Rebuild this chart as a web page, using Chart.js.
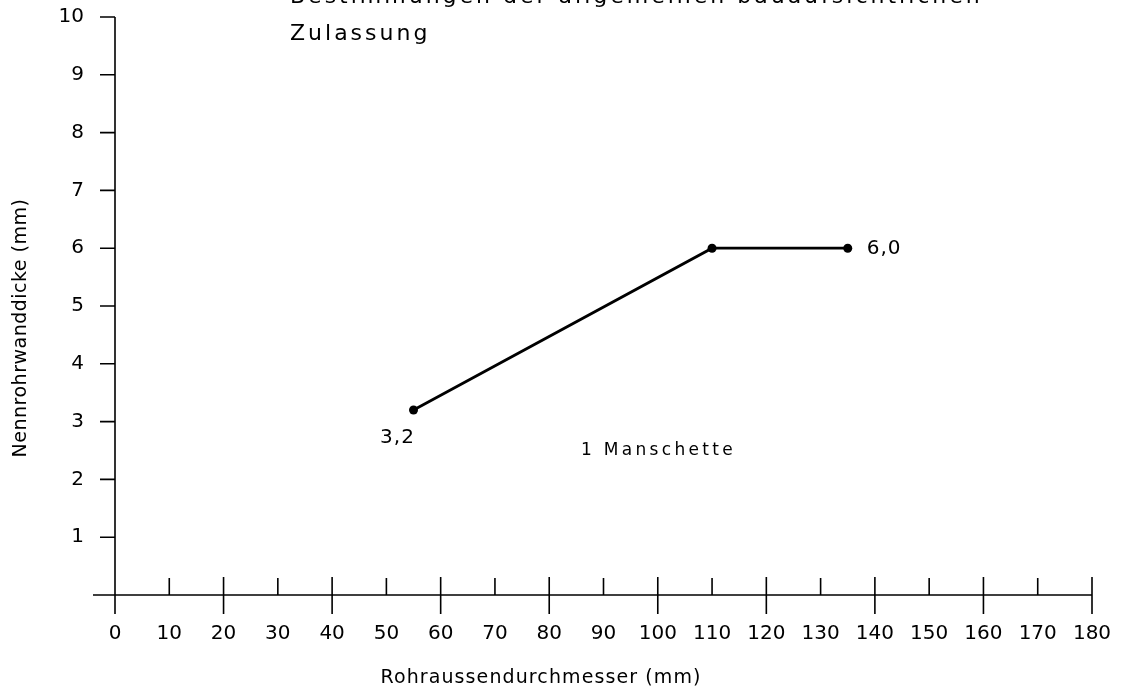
<!DOCTYPE html>
<html>
<head>
<meta charset="utf-8">
<title>Nennrohrwanddicke</title>
<script src="https://cdn.jsdelivr.net/npm/chart.js@4/dist/chart.umd.min.js"></script>
<style>
  html, body { margin: 0; padding: 0; background: #fff; }
  canvas { display: block; }
</style>
</head>
<body>
<canvas id="c" width="1121" height="695"></canvas>
<script>
// Pipe outer diameter (mm) and nominal wall thickness (mm)
const diameters = [55, 110, 135];
const thickness = [3.2, 6.0, 6.0];
// Points whose value is written next to them
const labelledPoints = [0, 2];

// Axis ranges and ticks
const xTicks = [0, 10, 20, 30, 40, 50, 60, 70, 80, 90, 100, 110, 120, 130, 140, 150, 160, 170, 180];
const yTicks = [1, 2, 3, 4, 5, 6, 7, 8, 9, 10];

const titleLines = ['Bestimmungen der allgemeinen bauaufsichtlichen', 'Zulassung'];
const zoneText = '1 Manschette';
const xTitle = 'Rohraussendurchmesser (mm)';
const yTitle = 'Nennrohrwanddicke (mm)';

const FONT = '"DejaVu Sans", "Liberation Sans", sans-serif';

// Keep the plot box fixed: no extra room for overhanging tick labels
function fixBox(size, key) {
  return function (s) {
    s[key] = size;
    s.paddingTop = 0; s.paddingBottom = 0; s.paddingLeft = 0; s.paddingRight = 0;
  };
}

// Axes with ticks crossing the horizontal axis, annotations and titles
const drawingPlugin = {
  id: 'drawing',
  afterDraw(chart) {
    const ctx = chart.ctx;
    const xs = chart.scales.x, ys = chart.scales.y;
    const x0 = xs.getPixelForValue(xTicks[0]);
    const x1 = xs.getPixelForValue(xTicks[xTicks.length - 1]);
    const y0 = ys.getPixelForValue(0);
    const y1 = ys.getPixelForValue(yTicks[yTicks.length - 1]);
    ctx.save();
    ctx.strokeStyle = '#000';
    ctx.lineWidth = 1.6;
    ctx.lineCap = 'butt';
    ctx.beginPath();
    // horizontal axis, running a little left of the vertical one
    ctx.moveTo(x0 - 22, y0);
    ctx.lineTo(x1, y0);
    // vertical axis
    ctx.moveTo(x0, y1);
    ctx.lineTo(x0, y0 + 19);
    // x ticks: every 20 crosses the axis, every 10 in between stands above it
    xTicks.forEach(v => {
      const px = xs.getPixelForValue(v);
      if (v % 20 === 0) {
        ctx.moveTo(px, y0 - 18);
        ctx.lineTo(px, y0 + 19);
      } else {
        ctx.moveTo(px, y0 - 17);
        ctx.lineTo(px, y0);
      }
    });
    // y ticks on the left
    yTicks.forEach(v => {
      const py = ys.getPixelForValue(v);
      ctx.moveTo(x0 - 15, py);
      ctx.lineTo(x0, py);
    });
    ctx.stroke();

    ctx.fillStyle = '#000';
    ctx.textBaseline = 'middle';

    // value labels at the end points
    ctx.font = '20px ' + FONT;
    ctx.letterSpacing = '1px';
    const ds = chart.data.datasets[0].data;
    labelledPoints.forEach((i, k) => {
      const p = ds[i];
      const px = xs.getPixelForValue(p.x), py = ys.getPixelForValue(p.y);
      const txt = p.y.toFixed(1).replace('.', ',');
      if (k === 0) {
        ctx.textAlign = 'center';
        ctx.fillText(txt, px - 16, py + 28);
      } else {
        ctx.textAlign = 'left';
        ctx.fillText(txt, px + 19, py + 1);
      }
    });

    // zone label
    ctx.font = '17px ' + FONT;
    ctx.letterSpacing = '3.3px';
    ctx.textAlign = 'left';
    ctx.fillText(zoneText, 581, 451);

    // heading lines at the top
    ctx.font = '22px ' + FONT;
    ctx.letterSpacing = '3px';
    ctx.fillText(titleLines[0], 290, -3);
    ctx.fillText(titleLines[1], 290, 34);

    // axis titles
    ctx.font = '19px ' + FONT;
    ctx.letterSpacing = '1.1px';
    ctx.textAlign = 'center';
    ctx.fillText(xTitle, 541, 678);
    ctx.letterSpacing = '0.5px';
    ctx.save();
    ctx.translate(21, 328);
    ctx.rotate(-Math.PI / 2);
    ctx.fillText(yTitle, 0, 0);
    ctx.restore();
    ctx.restore();
  }
};

new Chart(document.getElementById('c'), {
  type: 'scatter',
  data: {
    datasets: [{
      data: diameters.map((x, i) => ({ x: x, y: thickness[i] })),
      showLine: true,
      borderColor: '#000',
      borderWidth: 2.8,
      pointRadius: 4.5,
      pointBackgroundColor: '#000',
      pointBorderColor: '#000',
      pointBorderWidth: 0,
      tension: 0
    }]
  },
  options: {
    responsive: false,
    animation: false,
    devicePixelRatio: 1,
    layout: { autoPadding: false, padding: { top: 17, right: 29, bottom: 0, left: 0 } },
    plugins: { legend: { display: false }, tooltip: { enabled: false } },
    scales: {
      x: {
        type: 'linear',
        min: xTicks[0],
        max: xTicks[xTicks.length - 1],
        afterFit: fixBox(100, 'height'),
        afterBuildTicks(s) { s.ticks = xTicks.map(v => ({ value: v })); },
        grid: { display: false, drawTicks: false },
        border: { display: false },
        ticks: {
          autoSkip: false,
          maxRotation: 0,
          color: '#000',
          padding: 27,
          font: { family: FONT, size: 20 }
        }
      },
      y: {
        type: 'linear',
        min: 0,
        max: yTicks[yTicks.length - 1],
        afterFit: fixBox(115, 'width'),
        afterBuildTicks(s) { s.ticks = yTicks.map(v => ({ value: v })); },
        grid: { display: false, drawTicks: false },
        border: { display: false },
        ticks: {
          autoSkip: false,
          color: '#000',
          padding: 31,
          font: { family: FONT, size: 20 }
        }
      }
    }
  },
  plugins: [drawingPlugin]
});
</script>
</body>
</html>
